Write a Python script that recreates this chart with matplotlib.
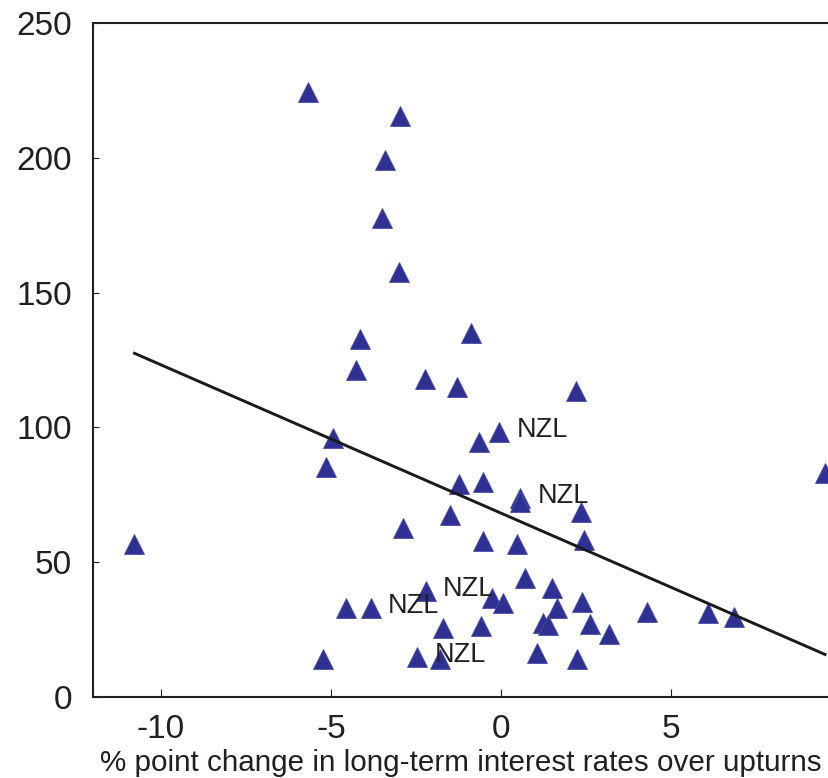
import matplotlib
matplotlib.use("Agg")
import matplotlib.pyplot as plt
import numpy as np

plt.rcParams["font.family"] = ["Liberation Sans", "DejaVu Sans"]

# Change in long-term interest rates (% points) over upturns
rate_change = [
    -5.69, -2.97, -3.41, -3.51, -3.00,
    -4.15, -0.87, -4.26, -2.24, -1.28, 2.21, -4.95, -5.15, -0.05, -0.65,
    -1.24, -0.53, 0.56, 0.56, 2.34, -1.51, -2.87, 2.45, -0.52, 0.47, 0.72,
    1.51, -2.21, -0.26, 0.07, 2.37, 1.64, -4.56, -3.83, -1.70, -0.59,
    1.23, 1.37, 2.62, 3.19, -5.23, -2.46, -1.79, 1.07, 2.24,
    4.29, 6.10, 6.85, -10.78, 9.53,
]
# Outcome over the same upturns
outcome = [
    224.3, 215.5, 199.2, 177.6, 157.5,
    132.7, 134.9, 121.3, 118.0, 114.9, 113.6, 96.1, 85.2, 98.2, 94.7,
    79.0, 79.9, 73.8, 72.3, 68.5, 67.6, 62.6, 58.2, 58.0, 56.6, 44.0,
    40.3, 39.3, 36.6, 34.7, 35.4, 33.1, 32.9, 32.9, 25.7, 26.4,
    27.6, 26.7, 27.1, 23.3, 14.0, 14.7, 14.0, 16.4, 14.0,
    31.6, 31.0, 29.6, 56.6, 83.0,
]
# Indices of the New Zealand episodes
nzl_index = [13, 17, 27, 33, 41]
nzl_label = "NZL"

# Fitted regression line
fit_intercept = 68.2
fit_slope = -5.50

x_ticks = [-10, -5, 0, 5]
y_ticks = [0, 50, 100, 150, 200, 250]
x_label = "% point change in long-term interest rates over upturns"

W, H = 829, 778
fig = plt.figure(figsize=(W / 100, H / 100), dpi=100)
ax = fig.add_axes([93 / W, 81 / H, 748 / W, 674 / H])

marker_color = "#2E3192"
ax.plot(rate_change, outcome, linestyle="none", marker="^", markersize=14.5,
        markerfacecolor=marker_color, markeredgecolor="#4a4da6",
        markeredgewidth=0.6, zorder=3, clip_on=False)

xs = np.array([min(rate_change), max(rate_change)])
ax.plot(xs, fit_intercept + fit_slope * xs, color="#1a1a1a", linewidth=2.1,
        zorder=4)

for i in nzl_index:
    ax.annotate(nzl_label, (rate_change[i], outcome[i]),
                xytext=(12.5, 1.5), textcoords="offset points",
                ha="left", va="center", fontsize=19.5, color="#231f20",
                zorder=5)

ax.set_xlim(-12, 10)
ax.set_ylim(0, 250)
ax.set_xticks(x_ticks)
ax.set_yticks(y_ticks)
ax.set_xticklabels([str(v) for v in x_ticks])
ax.set_yticklabels([str(v) for v in y_ticks])

for side in ["left", "bottom", "top"]:
    ax.spines[side].set_linewidth(1.5)
    ax.spines[side].set_color("#231f20")
ax.spines["right"].set_visible(False)

ax.tick_params(axis="x", direction="in", length=6, width=0.8,
               colors="#231f20", labelsize=24, pad=12, top=False)
ax.tick_params(axis="y", direction="in", length=4.5, width=0.8,
               colors="#231f20", labelsize=24, pad=15, right=False)

fig.text(100 / W, 7 / H, x_label, ha="left", va="baseline", fontsize=21.3,
         color="#231f20")

fig.savefig("out.png", dpi=100)
